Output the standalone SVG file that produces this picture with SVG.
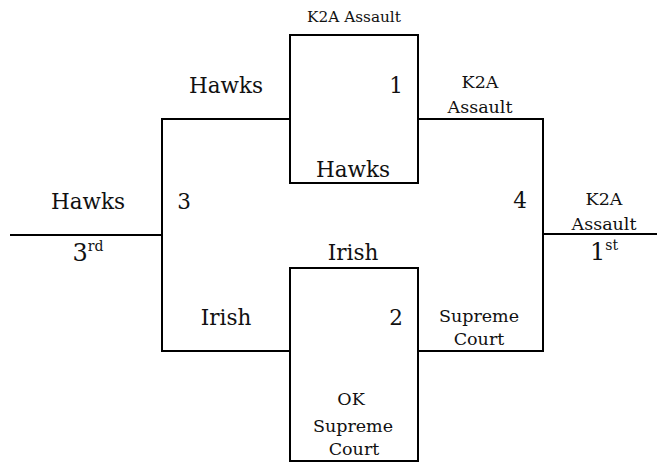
<svg xmlns="http://www.w3.org/2000/svg" width="657" height="462" viewBox="0 0 657 462">
<style>
.ln{fill:none;stroke:#000;stroke-width:2}
text{font-family:"DejaVu Serif","Liberation Serif",serif;fill:#111;text-anchor:middle}
.l{font-size:21.5px}
.m{font-size:17.5px}
.s{font-size:15.3px}
.b{font-size:24px}
.sup{font-size:14px}
</style>
<rect width="657" height="462" fill="#fff"/>
<g id="connectors">
<polyline class="ln" points="10,235 162,235"/>
<polyline class="ln" points="290,119 162,119 162,351 290,351"/>
<polyline class="ln" points="418,119 543,119 543,351 418,351"/>
<polyline class="ln" points="543,234 657,234"/>
</g>
<g id="match1">
<rect class="ln" x="290" y="35" width="128" height="148"/>
<text class="s" x="354" y="22">K2A Assault</text>
<text class="l" x="396" y="93">1</text>
<text class="l" x="353" y="177">Hawks</text>
</g>
<g id="match2">
<rect class="ln" x="290" y="268" width="128" height="193"/>
<text class="l" x="353" y="260">Irish</text>
<text class="l" x="396" y="325">2</text>
<text class="m" x="351" y="405">OK</text>
<text class="m" x="353" y="432">Supreme</text>
<text class="m" x="354" y="455">Court</text>
</g>
<g id="match3">
<text class="l" x="226" y="93">Hawks</text>
<text class="l" x="226" y="325">Irish</text>
<text class="l" x="184" y="209">3</text>
<text class="l" x="88" y="209">Hawks</text>
<text class="b" x="88" y="261">3<tspan class="sup" dy="-10">rd</tspan></text>
</g>
<g id="match4">
<text class="m" x="480" y="88">K2A</text>
<text class="m" x="480" y="113">Assault</text>
<text class="l" x="520" y="208">4</text>
<text class="m" x="479" y="322">Supreme</text>
<text class="m" x="479" y="345">Court</text>
<text class="m" x="604" y="205">K2A</text>
<text class="m" x="604" y="230">Assault</text>
<text class="b" x="604" y="260">1<tspan class="sup" dy="-10">st</tspan></text>
</g>
</svg>
